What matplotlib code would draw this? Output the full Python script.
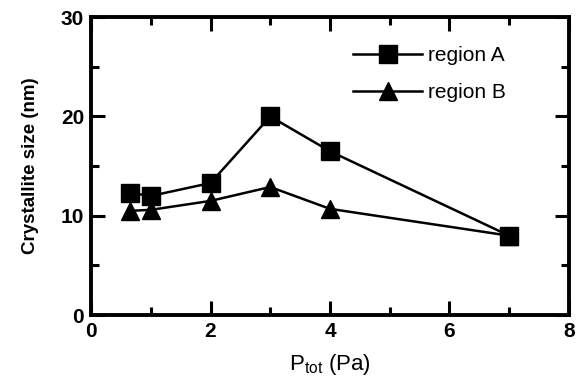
import matplotlib
matplotlib.use("Agg")
import matplotlib.pyplot as plt
from matplotlib.ticker import MultipleLocator

pressure = [0.65, 1.0, 2.0, 3.0, 4.0, 7.0]
region_a = [12.3, 12.0, 13.3, 20.0, 16.5, 8.0]
region_b = [10.5, 10.6, 11.5, 12.9, 10.7, 8.0]

plt.rcParams['font.family'] = ['Liberation Sans', 'DejaVu Sans']

fig = plt.figure(figsize=(5.84, 3.90), dpi=100)
ax = fig.add_axes([0.156, 0.192, 0.818, 0.764])

ax.plot(pressure, region_b, color='black', lw=1.8, marker='^', ms=13, label='region B', zorder=3)
ax.plot(pressure, region_a, color='black', lw=1.8, marker='s', ms=12.5, label='region A', zorder=4)

ax.set_xlim(0, 8)
ax.set_ylim(0, 30)
ax.xaxis.set_major_locator(MultipleLocator(2))
ax.xaxis.set_minor_locator(MultipleLocator(1))
ax.yaxis.set_major_locator(MultipleLocator(10))
ax.yaxis.set_minor_locator(MultipleLocator(5))
ax.tick_params(which='both', direction='in', top=True, right=True, width=2.2)
ax.tick_params(which='major', length=10, labelsize=15, pad=5)
ax.tick_params(which='minor', length=6)
for lab in ax.get_xticklabels() + ax.get_yticklabels():
    lab.set_fontweight('bold')
for s in ax.spines.values():
    s.set_linewidth(2.8)

ax.set_xlabel('P$_{\\mathregular{tot}}$ (Pa)', fontsize=16, labelpad=8)
ax.set_ylabel('Crystallite size (nm)', fontsize=13.5, fontweight='bold', labelpad=16)

h, l = ax.get_legend_handles_labels()
ax.legend(h[::-1], l[::-1], loc='upper left', bbox_to_anchor=(0.51, 0.965), frameon=False,
          fontsize=15, handlelength=3.3, labelspacing=0.85, handletextpad=0.3)

fig.savefig('out.png', dpi=100)
